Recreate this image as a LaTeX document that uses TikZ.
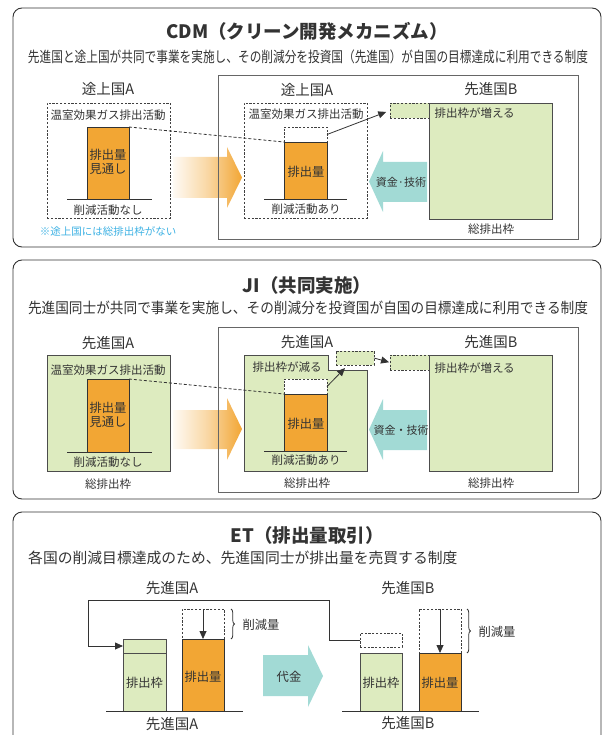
\documentclass[tikz,border=0pt]{standalone}
\usepackage{graphicx}
\usepackage{fontspec}
\setmainfont{Noto Sans CJK JP}
\usetikzlibrary{arrows.meta,decorations.pathreplacing,calc}
\definecolor{orc}{HTML}{F2A634}
\definecolor{grc}{HTML}{DDEBBF}
\definecolor{cyc}{HTML}{A2DAD5}
\definecolor{txc}{HTML}{333333}
\definecolor{blc}{HTML}{3DB1E3}
\newcommand{\boxn}[6]{\node[#1, anchor=north west, inner sep=0pt, outer sep=0pt, minimum width={(#5-#3)*1pt}, minimum height={(#6-#4)*1pt}] (#2) at (#3,#4) {};}
\begin{document}
\begin{tikzpicture}[x=1pt,y=-1pt,
 pnl/.style={draw=txc, line width=0.9pt, rounded corners=9pt},
 rframe/.style={draw=black!60, line width=0.9pt},
 dbox/.style={draw=black!75, line width=0.7pt, dash pattern=on 2.2pt off 1.6pt, fill=white},
 gdbox/.style={dbox, fill=grc},
 obar/.style={draw=txc, fill=orc, line width=0.8pt},
 gbar/.style={draw=black!70, fill=grc, line width=0.8pt},
 groundline/.style={draw=txc, line width=0.8pt},
 ttl/.style={font=\fontsize{18.5}{20}\selectfont\bfseries, text=txc},
 subt/.style={font=\fontsize{14.8}{16}\selectfont, text=txc, inner sep=0pt},
 ctry/.style={font=\fontsize{14.5}{16}\selectfont, text=txc},
 lbl/.style={font=\fontsize{11.5}{13}\selectfont, text=txc},
 bl/.style={font=\fontsize{12.3}{14}\selectfont, text=txc, align=center},
 conn/.style={draw=txc, line width=0.8pt},
 dconn/.style={draw=txc, line width=0.8pt, dash pattern=on 3pt off 2pt},
 arrtip/.style={-{Triangle[length=8pt,width=7pt]}},
 orarrow/.style={left color=orc!5, right color=orc, middle color=orc!45},
 cyarrow/.style={fill=cyc},
]
\useasboundingbox (0,0) rectangle (606,735);

% ================= Panel 1: CDM =================
\boxn{pnl}{p1}{13}{8}{601}{247}
\node[ttl] (t1) at (307,31) {CDM（クリーン開発メカニズム）};
\node[subt] (s1) at (308,57) {\resizebox{560pt}{\height}{先進国と途上国が共同で事業を実施し、その削減分を投資国（先進国）が自国の目標達成に利用できる制度}};

\node[ctry] (c1a) at (108,89) {途上国A};
\boxn{dbox}{d1a}{47}{103}{170}{218}
\node[lbl] (l1a) at (108,115) {温室効果ガス排出活動};
\boxn{obar}{b1a}{87}{127}{129}{199}
\node[bl] (bt1a) at (108,162) {排出量\\見通し};
\draw[groundline] (67,199) -- (152,199);
\node[lbl] (n1a) at (108,210) {削減活動なし};
\node[font=\fontsize{10.5}{12}\selectfont, text=blc] (note1) at (108,231) {※途上国には総排出枠がない};

\shade[orarrow] (173,157) -- (227,157) -- (227,147) -- (242,177.5) -- (227,208) -- (227,198) -- (173,198) -- cycle;

\boxn{rframe}{f1}{218}{75}{578}{239}
\node[ctry] (c1b) at (307,90) {途上国A};
\boxn{dbox}{d1b}{244}{103}{367}{218}
\node[lbl] (l1b) at (306,114) {温室効果ガス排出活動};
\boxn{dbox}{e1b}{284}{127}{327}{142}
\boxn{obar}{b1b}{284}{142}{327}{199}
\node[bl] (bt1b) at (306,172) {排出量};
\draw[groundline] (264,199) -- (347,199);
\node[lbl] (n1b) at (306,209) {削減活動あり};
\draw[dconn] (b1a.north east) -- (b1b.north west);

\boxn{gdbox}{g1}{390}{103}{429}{118}
\boxn{gbar}{B1}{429}{103}{552}{219}
\node[ctry] (c1c) at (491,89) {先進国B};
\node[lbl, anchor=west] (inc1) at (431,113) {排出枠が増える};
\node[lbl] (tot1) at (491,229) {総排出枠};
\draw[conn, arrtip, shorten >=4pt] (e1b.east) -- (g1.west);

\fill[cyarrow] (427,162) -- (383,162) -- (383,151) -- (369,181.5) -- (383,212) -- (383,202) -- (427,202) -- cycle;
\node[font=\fontsize{11}{12}\selectfont, text=txc] (m1) at (401,182) {資金·技術};

% ================= Panel 2: JI =================
\boxn{pnl}{p2}{13}{260}{601}{499}
\node[ttl] (t2) at (307,285) {JI（共同実施）};
\node[subt] (s2) at (308,308) {\resizebox{560pt}{\height}{先進国同士が共同で事業を実施し、その削減分を投資国が自国の目標達成に利用できる制度}};

\node[ctry] (c2a) at (108,343) {先進国A};
\boxn{gbar}{g2a}{47}{355}{170}{471}
\node[lbl] (l2a) at (108,370) {温室効果ガス排出活動};
\boxn{obar}{b2a}{87}{379}{129}{452}
\node[bl] (bt2a) at (108,415) {排出量\\見通し};
\draw[groundline] (67,452) -- (152,452);
\node[lbl] (n2a) at (108,462) {削減活動なし};
\node[lbl] (tot2a) at (108,484) {総排出枠};

\shade[orarrow] (173,410) -- (227,410) -- (227,398) -- (242,429) -- (227,460) -- (227,449) -- (173,449) -- cycle;

\boxn{rframe}{f2}{218}{327}{578}{492}
\node[ctry] (c2b) at (307,342) {先進国A};
\draw[gbar] (244,355) -- (328,355) -- (328,370) -- (367,370) -- (367,471) -- (244,471) -- cycle;
\node[lbl] (dec2) at (287,367) {排出枠が減る};
\boxn{dbox}{e2b}{284}{379}{327}{394}
\boxn{obar}{b2b}{284}{394}{327}{451}
\node[bl] (bt2b) at (306,424) {排出量};
\draw[groundline] (264,451) -- (347,451);
\node[lbl] (n2b) at (306,460) {削減活動あり};
\node[lbl] (tot2b) at (307,483) {総排出枠};
\draw[dconn] (b2a.north east) -- (b2b.north west);

\boxn{gdbox}{m2}{336}{351}{374}{365}
\boxn{gdbox}{g2}{390}{355}{429}{370}
\boxn{gbar}{B2}{429}{355}{552}{471}
\node[ctry] (c2c) at (491,342) {先進国B};
\node[lbl, anchor=west] (inc2) at (431,368) {排出枠が増える};
\node[lbl] (tot2c) at (491,483) {総排出枠};
\draw[conn, arrtip] (e2b.east) -- ($(m2.south west)+(9,3)$);
\draw[conn, arrtip, shorten >=1pt] (m2.east) -- (g2.west);

\fill[cyarrow] (427,410) -- (383,410) -- (383,399) -- (369,429.5) -- (383,460) -- (383,450) -- (427,450) -- cycle;
\node[font=\fontsize{11}{12}\selectfont, text=txc] (m2t) at (401,430) {資金・技術};

% ================= Panel 3: ET =================
\boxn{pnl}{p3}{13}{512}{601}{770}
\node[ttl] (t3) at (307,535) {ET（排出量取引）};
\node[subt, anchor=west] (s3) at (28,558) {各国の削減目標達成のため、先進国同士が排出量を売買する制度};

\node[ctry] (c3a) at (172,588) {先進国A};
\node[ctry] (c3b) at (408,588) {先進国B};

% country A
\boxn{gbar}{gAt}{123}{639}{166}{653}
\boxn{gbar}{gA}{123}{653}{166}{711}
\node[bl] (gAl) at (144.5,683) {排出枠};
\boxn{dbox}{dA}{182}{609}{224}{639}
\boxn{obar}{oA}{182}{639}{224}{711}
\node[bl] (oAl) at (203,677) {排出量};
\draw[conn, arrtip] (dA.north) -- (oA.north);
\draw[conn, decorate, decoration={brace, amplitude=3.5pt}] (231,609) -- (231,639);
\node[bl, anchor=west] (rA) at (239,625) {削減量};
\draw[groundline] (106,711) -- (243,711);
\node[ctry] (c3a2) at (172,724) {先進国A};

% money arrow
\fill[cyarrow] (263,655) -- (308,655) -- (308,645) -- (323,676) -- (308,707) -- (308,696) -- (263,696) -- cycle;
\node[bl] (pay) at (289,677) {代金};

% country B
\boxn{dbox}{dB}{360}{633}{402}{647}
\boxn{gbar}{gB}{360}{653}{402}{711}
\node[bl] (gBl) at (381,683) {排出枠};
\boxn{dbox}{dB2}{419}{609}{461}{653}
\boxn{obar}{oB}{419}{653}{461}{711}
\node[bl] (oBl) at (440,683) {排出量};
\draw[conn, arrtip] (dB2.north) -- (oB.north);
\draw[conn, decorate, decoration={brace, amplitude=3.5pt}] (467,609) -- (467,653);
\node[bl, anchor=west] (rB) at (475,632) {削減量};
\draw[groundline] (342,711) -- (479,711);
\node[ctry] (c3b2) at (408,723) {先進国B};

% transfer line
\draw[conn, arrtip] (dB.west) -- (329,640) -- (329,600) -- (88,600) -- (88,646) -- (gAt.west);
\end{tikzpicture}
\end{document}
